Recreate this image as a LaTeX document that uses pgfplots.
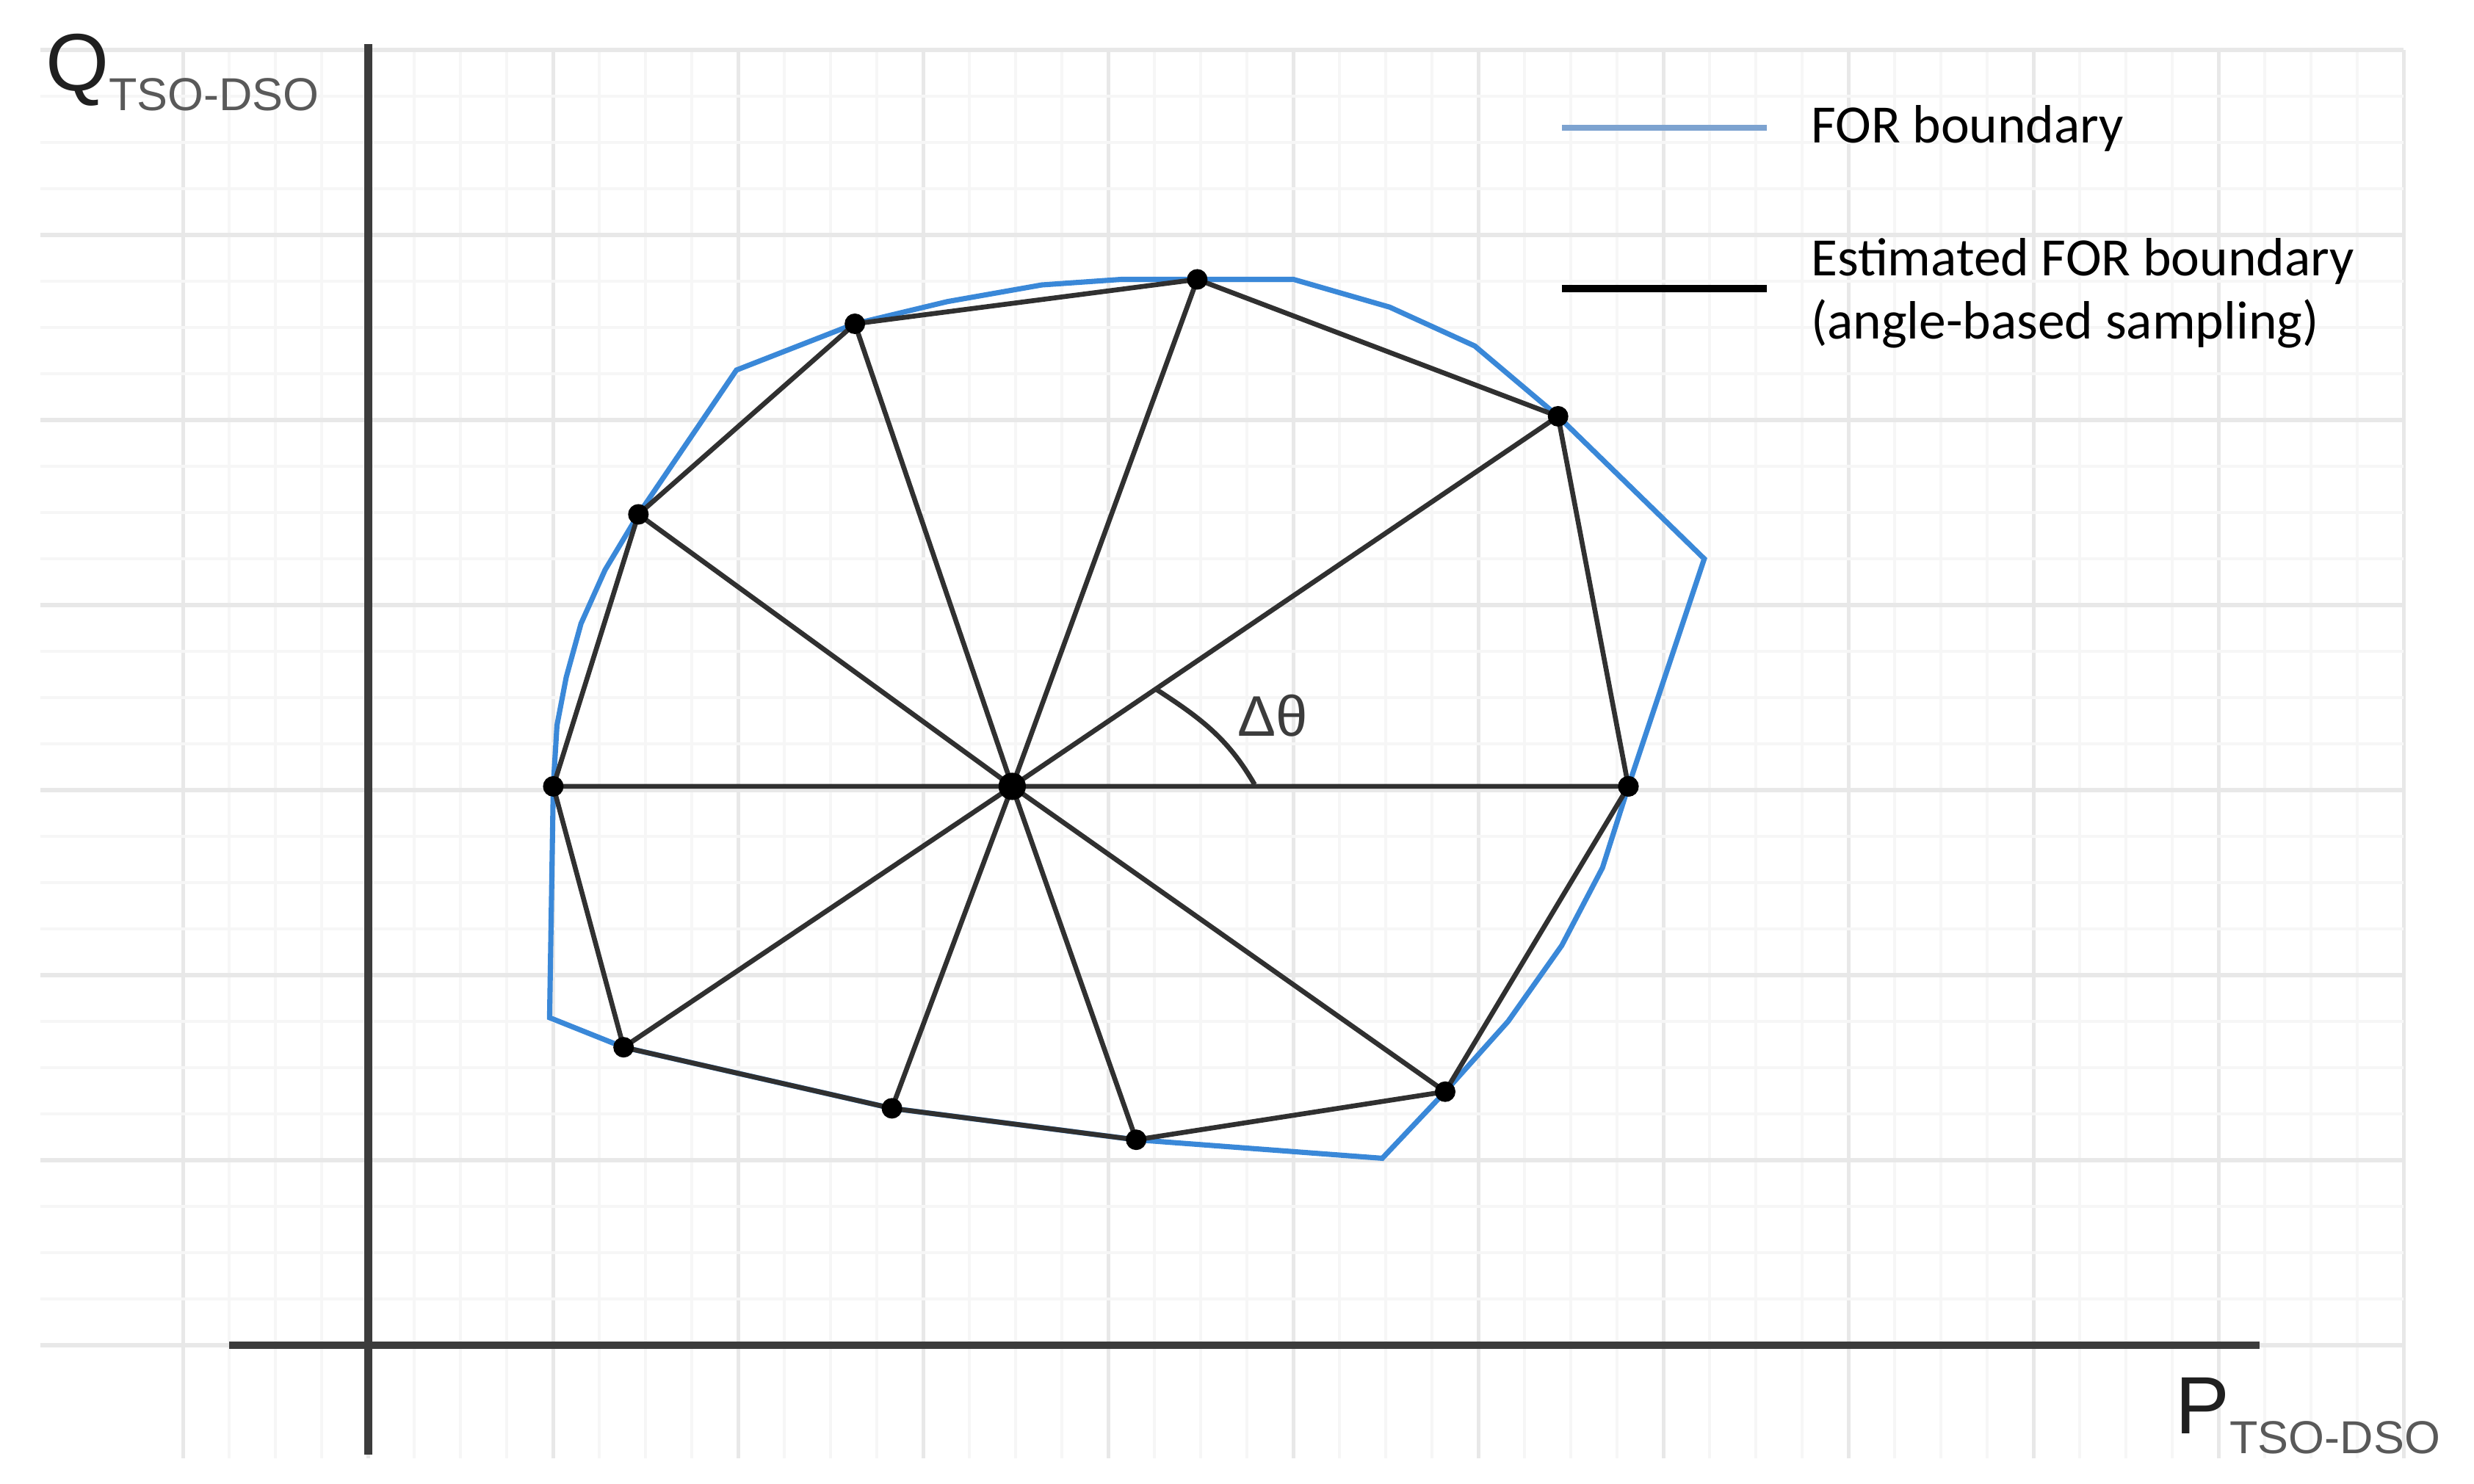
\documentclass[border=0pt]{standalone}
\usepackage{pgfplots}
\usepackage{pgfplotstable}
\pgfplotsset{compat=1.18}
\usepackage{fontspec}
\setmainfont{Carlito}
\newfontfamily\arialfont{Liberation Sans}
\definecolor{forblue}{RGB}{58,136,216}
\definecolor{legblue}{RGB}{125,163,208}
\definecolor{raygray}{RGB}{48,48,48}
\definecolor{axgray}{RGB}{60,60,60}

% FOR boundary (blue) in grid units
\pgfplotstableread{
x y
1.00 3.02
1.02 3.35
1.07 3.61
1.15 3.90
1.28 4.19
1.46 4.49
1.99 5.27
2.63 5.52
3.13 5.64
3.64 5.73
4.07 5.76
4.48 5.76
5.00 5.76
5.52 5.61
5.98 5.40
6.43 5.02
7.22 4.25
6.81 3.02
6.67 2.58
6.45 2.16
6.16 1.75
5.82 1.37
5.48 1.01
4.15 1.11
2.83 1.28
1.38 1.61
0.98 1.77
1.00 3.02
}\forboundary

% estimated boundary, 10 samples at 36 degree steps
\pgfplotstableread{
x y
6.81 3.02
6.43 5.02
4.48 5.76
2.63 5.52
1.46 4.49
1.00 3.02
1.38 1.61
2.83 1.28
4.15 1.11
5.82 1.37
6.81 3.02
}\estboundary

% rays from the centre point
\pgfplotstableread{
x y
3.48 3.02
6.81 3.02
nan nan
3.48 3.02
6.43 5.02
nan nan
3.48 3.02
4.48 5.76
nan nan
3.48 3.02
2.63 5.52
nan nan
3.48 3.02
1.46 4.49
nan nan
3.48 3.02
1.00 3.02
nan nan
3.48 3.02
1.38 1.61
nan nan
3.48 3.02
2.83 1.28
nan nan
3.48 3.02
4.15 1.11
nan nan
3.48 3.02
5.82 1.37
}\rays

\begin{document}
\begin{tikzpicture}
\begin{axis}[
    x=1cm, y=1cm,
    xmin=-1.77, xmax=11.0,
    ymin=-0.61, ymax=7.0,
    axis line style={draw=none},
    xtick={-1,0,...,11}, ytick={0,1,...,7},
    minor tick num=3,
    xticklabels={}, yticklabels={},
    tick label style={overlay},
    major tick length=0pt, minor tick length=0pt,
    grid=both,
    major grid style={draw=black!9, line width=0.6pt},
    minor grid style={draw=black!3.5, line width=0.45pt},
    clip=false,
    unbounded coords=jump,
]
\path (axis cs:-1.99,-0.75) rectangle (axis cs:11.38,7.27);

% axes
\addplot[axgray, line width=1.2pt] coordinates {(0,-0.59) (0,7.03)};
\addplot[axgray, line width=1.2pt] coordinates {(-0.75,0) (10.22,0)};

\addplot[forblue, line width=0.8pt] table {\forboundary};
\addplot[raygray, line width=0.75pt] table {\rays};
\addplot[raygray, line width=0.75pt, mark=*, mark size=1.2pt,
    mark options={fill=black, draw=black}] table {\estboundary};
\addplot[only marks, mark=*, mark size=1.9pt, black] coordinates {(3.48,3.02)};

% angle
\draw[raygray, line width=0.75pt] (axis cs:4.25,3.55) to[out=-33, in=120] (axis cs:4.79,3.03);
\node[anchor=base west, inner sep=0, text=axgray] at (axis cs:4.69,3.29)
    {\arialfont\fontsize{8.8}{10}\selectfont Δθ};

% axis names
\node[anchor=base west, inner sep=0, text=black!88] at (axis cs:-1.75,6.78)
    {\arialfont\fontsize{12.5}{15}\selectfont Q\raisebox{-3pt}{\fontsize{7.1}{9}\selectfont\color{black!65}TSO-DSO}};
\node[anchor=base west, inner sep=0, text=black!88] at (axis cs:9.76,-0.48)
    {\arialfont\fontsize{12.5}{15}\selectfont P\raisebox{-3pt}{\fontsize{7.1}{9}\selectfont\color{black!65}TSO-DSO}};

% legend
\draw[legblue, line width=0.9pt] (axis cs:6.45,6.58) -- (axis cs:7.56,6.58);
\draw[black, line width=1.1pt] (axis cs:6.45,5.71) -- (axis cs:7.56,5.71);
\node[anchor=base west, inner sep=0] at (axis cs:7.79,6.50)
    {\fontsize{8.3}{9.6}\selectfont FOR boundary};
\node[anchor=base west, inner sep=0] at (axis cs:7.79,5.78)
    {\fontsize{8.3}{9.6}\selectfont Estimated FOR boundary};
\node[anchor=base west, inner sep=0] at (axis cs:7.79,5.44)
    {\fontsize{8.3}{9.6}\selectfont (angle-based sampling)};
\end{axis}
\end{tikzpicture}
\end{document}
